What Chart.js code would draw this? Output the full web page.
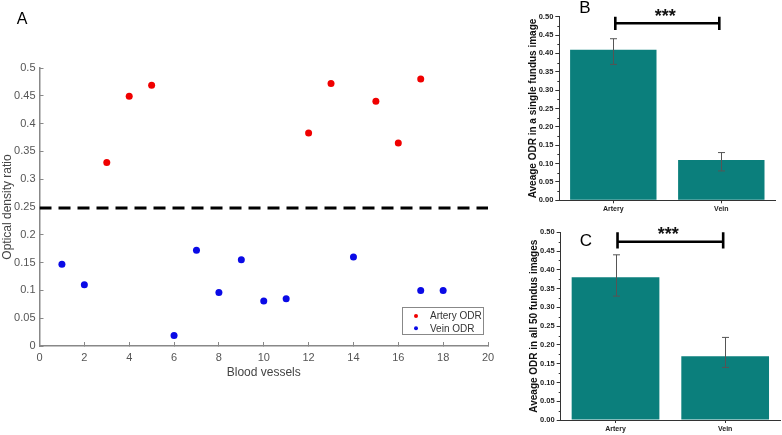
<!DOCTYPE html>
<html lang="en">
<head>
  <meta charset="UTF-8">
  <title>Optical density ratio of arteries and veins</title>
  <script src="https://cdn.jsdelivr.net/npm/chart.js"></script>
  <style>
    body { margin: 0; background: #fff; font-family: "Liberation Sans", Arial, sans-serif; }
    #wrap { position: relative; width: 782px; height: 435px; overflow: hidden; }
    canvas { position: absolute; }
    #chartA { left: 0; top: 0; }
    #chartB { left: 510px; top: 0; }
    #chartC { left: 510px; top: 215px; }
  </style>
</head>
<body>
  <div id="wrap">
    <canvas id="chartA" width="505" height="435"></canvas>
    <canvas id="chartB" width="272" height="215"></canvas>
    <canvas id="chartC" width="272" height="220"></canvas>
  </div>

  <script>
    // panel A: ODR per vessel
    const arteryVessels = [3, 4, 5, 12, 13, 15, 16, 17];
    const arteryOdr = [0.330, 0.449, 0.469, 0.383, 0.472, 0.440, 0.365, 0.480];
    const veinVessels = [1, 2, 6, 7, 8, 9, 10, 11, 14, 17, 18];
    const veinOdr = [0.147, 0.110, 0.019, 0.172, 0.096, 0.155, 0.081, 0.085, 0.160, 0.100, 0.100];
    const thresholdOdr = 0.248;

    // panels B and C: averages with error bars
    const groups = ['Artery', 'Vein'];
    const singleMean = [0.41, 0.11];
    const singleUpper = [0.44, 0.13];
    const singleLower = [0.37, 0.08];
    const allMean = [0.38, 0.17];
    const allUpper = [0.44, 0.22];
    const allLower = [0.33, 0.14];

    const FONT = '"Liberation Sans", Arial, sans-serif';
    const TEAL = '#0b7f7c';
    Chart.defaults.font.family = FONT;

    function letterPlugin(text, x, y, size) {
      return {
        id: 'letter' + text,
        afterDraw(chart) {
          const ctx = chart.ctx;
          ctx.save();
          ctx.fillStyle = '#000';
          ctx.font = size + 'px ' + FONT;
          ctx.textAlign = 'center';
          ctx.textBaseline = 'middle';
          ctx.fillText(text, x, y);
          ctx.restore();
        }
      };
    }

    const legendA = {
      id: 'legendA',
      afterDraw(chart) {
        const ctx = chart.ctx;
        ctx.save();
        ctx.fillStyle = '#fff';
        ctx.fillRect(402, 307, 81, 27);
        ctx.strokeStyle = '#888';
        ctx.lineWidth = 1;
        ctx.strokeRect(402.5, 307.5, 81, 27);
        ctx.font = '10px ' + FONT;
        ctx.textBaseline = 'middle';
        chart.data.datasets.slice(0, 2).forEach((ds, i) => {
          const y = 316 + i * 12.3;
          ctx.fillStyle = ds.backgroundColor;
          ctx.beginPath();
          ctx.arc(416, y, 2, 0, Math.PI * 2);
          ctx.fill();
          ctx.fillStyle = '#333';
          ctx.fillText(ds.label, 430, y + 0.5);
        });
        ctx.restore();
      }
    };

    function errorPlugin(upper, lower) {
      return {
        id: 'errors',
        afterDatasetsDraw(chart) {
          const ctx = chart.ctx;
          const ys = chart.scales.y;
          ctx.save();
          ctx.strokeStyle = '#555';
          ctx.lineWidth = 1;
          chart.getDatasetMeta(0).data.forEach((bar, i) => {
            const x = Math.round(bar.x) + 0.5;
            const yu = ys.getPixelForValue(upper[i]);
            const yl = ys.getPixelForValue(lower[i]);
            ctx.beginPath();
            ctx.moveTo(x, yu); ctx.lineTo(x, yl);
            ctx.moveTo(x - 3.5, yu); ctx.lineTo(x + 3.5, yu);
            ctx.moveTo(x - 3.5, yl); ctx.lineTo(x + 3.5, yl);
            ctx.stroke();
          });
          ctx.restore();
        }
      };
    }

    const minorTicks = {
      id: 'minorTicks',
      afterDraw(chart) {
        const ctx = chart.ctx;
        const ys = chart.scales.y;
        ctx.save();
        ctx.strokeStyle = '#333';
        ctx.lineWidth = 1;
        for (let v = 0.025; v < 0.5; v += 0.05) {
          const y = Math.round(ys.getPixelForValue(v)) + 0.5;
          ctx.beginPath();
          ctx.moveTo(ys.right, y);
          ctx.lineTo(ys.right - 2, y);
          ctx.stroke();
        }
        ctx.restore();
      }
    };

    function bracketPlugin(barY, capTop, capBottom, starBase) {
      return {
        id: 'bracket',
        afterDraw(chart) {
          const ctx = chart.ctx;
          const xs = chart.scales.x, ys = chart.scales.y;
          const x1 = xs.getPixelForValue(0) + 2, x2 = xs.getPixelForValue(1) - 2;
          const y = ys.getPixelForValue(barY);
          ctx.save();
          ctx.strokeStyle = '#000';
          ctx.lineWidth = 2.6;
          ctx.beginPath();
          ctx.moveTo(x1, y); ctx.lineTo(x2, y);
          ctx.moveTo(x1, ys.getPixelForValue(capTop)); ctx.lineTo(x1, ys.getPixelForValue(capBottom));
          ctx.moveTo(x2, ys.getPixelForValue(capTop)); ctx.lineTo(x2, ys.getPixelForValue(capBottom));
          ctx.stroke();
          ctx.fillStyle = '#111';
          ctx.font = 'bold 18px ' + FONT;
          ctx.textAlign = 'center';
          ctx.textBaseline = 'alphabetic';
          ctx.fillText('***', (x1 + x2) / 2 - 2, starBase);
          ctx.restore();
        }
      };
    }

    // ---- panel A ----
    new Chart(document.getElementById('chartA'), {
      type: 'scatter',
      data: {
        datasets: [
          {
            label: 'Artery ODR',
            data: arteryVessels.map((v, i) => ({ x: v, y: arteryOdr[i] })),
            backgroundColor: 'rgb(240,0,0)',
            borderWidth: 0,
            pointRadius: 3.5
          },
          {
            label: 'Vein ODR',
            data: veinVessels.map((v, i) => ({ x: v, y: veinOdr[i] })),
            backgroundColor: 'rgb(10,10,230)',
            borderWidth: 0,
            pointRadius: 3.5
          },
          {
            type: 'line',
            label: 'threshold',
            data: [{ x: 0, y: thresholdOdr }, { x: 20, y: thresholdOdr }],
            borderColor: '#000',
            borderWidth: 3,
            borderDash: [12, 7],
            pointRadius: 0
          }
        ]
      },
      options: {
        responsive: false,
        animation: false,
        layout: { padding: { top: 68, right: 17, left: 0, bottom: 0 } },
        plugins: { legend: { display: false }, tooltip: { enabled: false } },
        scales: {
          x: {
            type: 'linear', min: 0, max: 20,
            ticks: { stepSize: 2, color: '#555', font: { size: 11 }, padding: 9 },
            grid: { drawOnChartArea: false, tickLength: -4, color: '#888' },
            border: { color: '#888', width: 1.5 },
            title: { display: true, text: 'Blood vessels', color: '#444', font: { size: 12 }, padding: { top: 0, bottom: 55 } },
            afterFit: s => { s.height = 89; }
          },
          y: {
            min: 0, max: 0.5,
            ticks: { stepSize: 0.05, color: '#555', font: { size: 11 }, padding: 8, callback: v => String(Math.round(v * 100) / 100) },
            grid: { drawOnChartArea: false, tickLength: -4, color: '#888' },
            border: { color: '#888', width: 1.5 },
            title: { display: true, text: 'Optical density ratio', color: '#444', font: { size: 12 }, padding: { top: 0, bottom: 0 } },
            afterFit: s => { s.width = 39.5; }
          }
        }
      },
      plugins: [legendA, letterPlugin('A', 22, 20, 16)]
    });

    function barOptions(title, top, yWidth, xHeight, right, titlePad) {
      return {
        responsive: false,
        animation: false,
        layout: { padding: { top: top, right: right, left: 0, bottom: 0 } },
        plugins: { legend: { display: false }, tooltip: { enabled: false } },
        scales: {
          x: {
            grid: { offset: false, drawOnChartArea: false, tickLength: 3, color: '#333' },
            border: { color: '#333', width: 1 },
            ticks: { color: '#222', font: { size: 7, weight: 'bold' }, padding: 2 },
            afterFit: s => { s.height = xHeight; }
          },
          y: {
            min: 0, max: 0.5,
            ticks: { stepSize: 0.05, color: '#222', font: { size: 7.5, weight: 'bold' }, padding: 2, callback: v => v.toFixed(2) },
            grid: { drawOnChartArea: false, tickLength: 4, color: '#333' },
            border: { color: '#333', width: 1 },
            title: { display: true, text: title, color: '#111', font: { size: 10, weight: 'bold' }, padding: { top: titlePad, bottom: 0 } },
            afterFit: s => { s.width = yWidth; }
          }
        }
      };
    }

    // ---- panel B ----
    new Chart(document.getElementById('chartB'), {
      type: 'bar',
      data: {
        labels: groups,
        datasets: [{ data: singleMean, backgroundColor: TEAL, barPercentage: 0.8, categoryPercentage: 1 }]
      },
      options: barOptions('Aveage ODR in a single fundus image', 16.7, 49.3, 14.7, 6.7, 17.3),
      plugins: [errorPlugin(singleUpper, singleLower), minorTicks, bracketPlugin(0.482, 0.5, 0.464, 22), letterPlugin('B', 75, 8, 17)]
    });

    // ---- panel C ----
    new Chart(document.getElementById('chartC'), {
      type: 'bar',
      data: {
        labels: groups,
        datasets: [{ data: allMean, backgroundColor: TEAL, barPercentage: 0.8, categoryPercentage: 1 }]
      },
      options: barOptions('Aveage ODR in all 50 fundus images', 17.3, 50.7, 15, 2, 18.3),
      plugins: [errorPlugin(allUpper, allLower), minorTicks, bracketPlugin(0.475, 0.5, 0.457, 24.5), letterPlugin('C', 76, 26.5, 17)]
    });
  </script>
</body>
</html>
